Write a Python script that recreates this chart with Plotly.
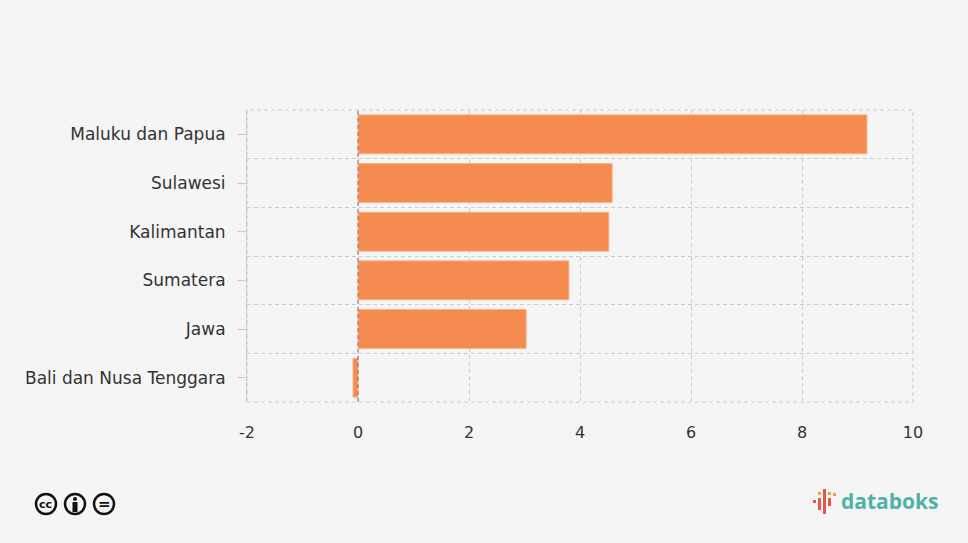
import plotly.graph_objects as go

regions = ['Bali dan Nusa Tenggara', 'Jawa', 'Sumatera', 'Kalimantan', 'Sulawesi', 'Maluku dan Papua']
values = [-0.09, 3.03, 3.80, 4.52, 4.58, 9.17]
x_ticks = [-2, 0, 2, 4, 6, 8, 10]
x_labels = ['-2', '0', '2', '4', '6', '8', '10']

pos = list(range(len(regions)))
bounds = [p + 0.5 for p in pos[:-1]]

# plot area in pixels, used to place the footer decorations in paper coords
L, R, T, B = 247, 913, 110, 402


def px(x):
    return (x - L) / (R - L)


def py(y):
    return (B - y) / (B - T)


fig = go.Figure(go.Bar(
    x=values,
    y=pos,
    orientation='h',
    width=0.8,
    marker=dict(color='#f58b4f', line=dict(color='#fbb48a', width=1)),
    hovertemplate='%{customdata}: %{x}<extra></extra>',
    customdata=regions,
))

fig.update_layout(
    width=968, height=543,
    paper_bgcolor='#f5f5f5',
    plot_bgcolor='#f5f5f5',
    margin=dict(l=L, r=968 - R, t=T, b=543 - B),
    font=dict(family='DejaVu Sans, Verdana, sans-serif', size=16, color='#333333'),
    showlegend=False,
    bargap=0.2,
)

fig.update_xaxes(
    range=[-2, 10],
    tickvals=x_ticks,
    ticktext=x_labels,
    showgrid=True, gridcolor='#cccccc', griddash='4px,3px', gridwidth=1,
    zeroline=False,
    showline=False,
    ticks='outside', ticklen=0,
    ticklabelstandoff=16,
    tickfont=dict(size=16),
)

fig.update_yaxes(
    range=[-0.5, len(regions) - 0.5],
    tickvals=pos,
    ticktext=regions,
    showgrid=False,
    zeroline=False,
    showline=True, linecolor='#cccccc', linewidth=1,
    ticks='outside', ticklen=9, tickcolor='#cccccc',
    ticklabelstandoff=8,
    minor=dict(tickvals=bounds, showgrid=True, gridcolor='#cccccc', griddash='4px,3px', gridwidth=1, ticks=''),
    tickfont=dict(size=17),
)

# dashed frame round the plot area
fig.add_shape(type='rect', xref='paper', yref='paper', x0=0, x1=1, y0=0, y1=1,
              line=dict(color='#cccccc', width=1, dash='4px,3px'), layer='below')

# dashed line at zero over the bars
fig.add_shape(type='line', xref='x', yref='paper', x0=0, x1=0, y0=0, y1=1,
              line=dict(color='#777777', width=1, dash='4px,3px'), layer='above')

# creative commons icons
for i, lbl in enumerate(['cc', '', '=']):
    cx = 46 + i * 29
    fig.add_shape(type='circle', xref='paper', yref='paper',
                  x0=px(cx - 10), x1=px(cx + 10), y0=py(514), y1=py(494),
                  line=dict(color='#111111', width=2.5))
    if lbl:
        fig.add_annotation(xref='paper', yref='paper', x=px(cx), y=py(504),
                           xanchor='center', yanchor='middle',
                           text='<b>%s</b>' % lbl, showarrow=False,
                           font=dict(size=11 if lbl == 'cc' else 15, color='#111111', family='DejaVu Sans'))
# person figure
fig.add_shape(type='circle', xref='paper', yref='paper',
              x0=px(73), x1=px(77), y0=py(501), y1=py(497),
              fillcolor='#111111', line=dict(width=0))
fig.add_shape(type='rect', xref='paper', yref='paper',
              x0=px(72.5), x1=px(77.5), y0=py(512), y1=py(502),
              fillcolor='#111111', line=dict(width=0))

# databoks logo
logo_bars = [(813, 500, 503, '#e8544a'), (818, 492, 495, '#f5a03a'), (818, 498, 510, '#e8544a'),
             (823, 489, 514, '#e8544a'), (828, 492, 495, '#f5a03a'), (828, 498, 506, '#e8544a'),
             (833, 493, 496, '#f5a03a')]
for bx, y0, y1, c in logo_bars:
    fig.add_shape(type='rect', xref='paper', yref='paper',
                  x0=px(bx), x1=px(bx + 3), y0=py(y1), y1=py(y0),
                  fillcolor=c, line=dict(width=0))
fig.add_annotation(xref='paper', yref='paper', x=px(839), y=py(501),
                   xanchor='left', yanchor='middle', text='<b>databoks</b>', showarrow=False,
                   font=dict(size=21, color='#4db3a8', family='Open Sans, DejaVu Sans'))

fig.write_html('out.html', config={'displayModeBar': False},
               post_script="document.body.style.margin='0';")
